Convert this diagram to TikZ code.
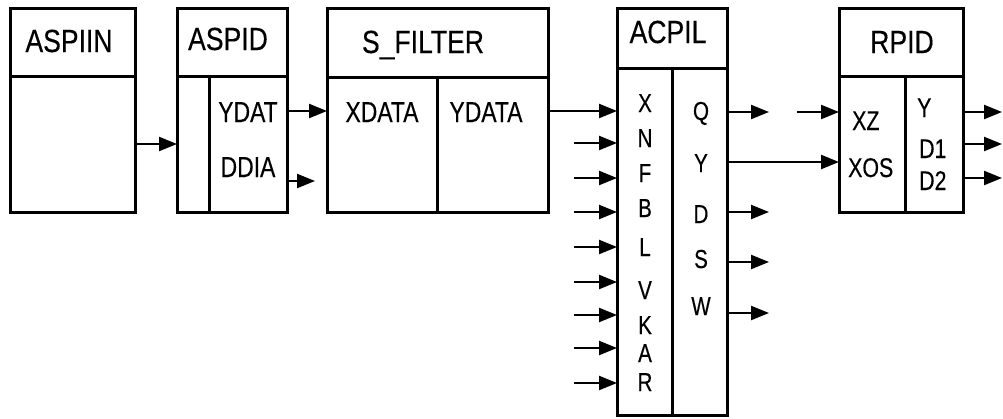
\documentclass[tikz,border=0pt]{standalone}
\usepackage{fontspec}
\setmainfont[FakeStretch=0.79,FakeBold=0.3]{Liberation Sans}
\newfontfamily\hdrfont[FakeStretch=0.83,FakeBold=0.3]{Liberation Sans}
\usetikzlibrary{arrows.meta}
\begin{document}
\begin{tikzpicture}[x=1pt,y=-1pt,
  box/.style={draw, line width=3pt, anchor=north west, inner sep=0pt, outer sep=0pt},
  divl/.style={line width=3pt},
  arr/.style={line width=2.3pt, -{Triangle[length=18pt,width=14pt]}},
  hdr/.style={anchor=base, inner sep=0pt, font=\hdrfont\fontsize{32}{32}\selectfont},
  lbl/.style={anchor=base, inner sep=0pt, font=\fontsize{29}{29}\selectfont},
  rlbl/.style={anchor=base west, inner sep=0pt, font=\fontsize{27}{27}\selectfont},
  pin/.style={anchor=base, inner sep=0pt, font=\fontsize{26}{26}\selectfont}]
\useasboundingbox (0,0) rectangle (1003,418);
% boxes
\node[box, minimum width=125pt, minimum height=204pt] (aspiin) at (10,8) {};
\node[box, minimum width=110pt, minimum height=204pt] (aspid) at (177,8) {};
\node[box, minimum width=221pt, minimum height=204pt] (sfilter) at (327,8) {};
\node[box, minimum width=110pt, minimum height=407pt] (acpil) at (617,8) {};
\node[box, minimum width=124pt, minimum height=204pt] (rpid) at (839,8) {};
% header dividers and column lines
\draw[divl] (10,76) -- (135,76);
\draw[divl] (177,76) -- (287,76);
\draw[divl] (209,76) -- (209,212);
\draw[divl] (327,77) -- (548,77);
\draw[divl] (437,77) -- (437,212);
\draw[divl] (617,68) -- (727,68);
\draw[divl] (672,68) -- (672,415);
\draw[divl] (839,76) -- (963,76);
\draw[divl] (905,76) -- (905,212);
% headers
\node[hdr] (h1) at (69,52) {ASPIIN};
\node[hdr] (h2) at (228,50) {ASPID};
\node[hdr] (h3) at (423,53) {S\_FILTER};
\node[hdr] (h4) at (668,43) {ACPIL};
\node[hdr] (h5) at (902,53) {RPID};
% labels
\node[lbl] (ydat) at (248,122) {YDAT};
\node[lbl] (ddia) at (248,177) {DDIA};
\node[lbl] (xdata) at (382,122) {XDATA};
\node[lbl] (ydata) at (486,122) {YDATA};
\node[rlbl] (xz) at (852,130) {XZ};
\node[rlbl] (xos) at (848,177) {XOS};
\node[rlbl] (ry) at (917,117) {Y};
\node[rlbl] (rd1) at (919,158) {D1};
\node[rlbl] (rd2) at (919,190) {D2};
% ACPIL pins
\foreach \t/\y in {X/112,N/147,F/182,B/217,L/256,V/299,K/334,A/362,R/391}
  \node[pin] (pl\t) at (645,\y) {\t};
\foreach \t/\y in {Q/120,Y/172,D/223,S/268,W/315}
  \node[pin] (pr\t) at (701,\y) {\t};
% connectors
\coordinate (c144) at (0,144);
\coordinate (c111) at (0,111);
\coordinate (c162) at (0,162);
\draw[arr] (aspiin.east |- c144) -- (aspid.west |- c144);
\draw[arr] (aspid.east |- c111) -- (sfilter.west |- c111);
\coordinate (ddiaout) at (315,181);
\draw[arr] (aspid.east |- ddiaout) -- (ddiaout);
\draw[arr] (sfilter.east |- c111) -- (acpil.west |- c111);
\foreach \y in {143,178,212,247,282,315,348,383} {
  \coordinate (in\y) at (574,\y);
  \draw[arr] (in\y) -- (acpil.west |- in\y);
}
\foreach \y in {112,212,262,313} {
  \coordinate (out\y) at (769,\y);
  \draw[arr] (acpil.east |- out\y) -- (out\y);
}
\draw[arr] (acpil.east |- c162) -- (rpid.west |- c162);
\coordinate (xzin) at (797,112);
\draw[arr] (xzin) -- (rpid.west |- xzin);
\foreach \y in {112,144,178} {
  \coordinate (rout\y) at (1002,\y);
  \draw[arr] (rpid.east |- rout\y) -- (rout\y);
}
\end{tikzpicture}
\end{document}
